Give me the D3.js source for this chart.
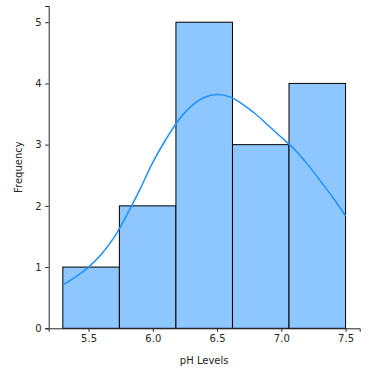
<!DOCTYPE html>
<html>
<head>
<meta charset="utf-8">
<script src="https://cdn.jsdelivr.net/npm/d3@7"></script>
<style>
  body { margin: 0; background: #fff; }
  svg { display: block; font-family: 'DejaVu Sans', sans-serif; }
</style>
</head>
<body>
<svg id="chart"></svg>
<script>
// histogram bins (pH edges) and counts
let binEdges = [5.3, 5.74, 6.18, 6.62, 7.06, 7.5]
let counts = [1, 2, 5, 3, 4]

// kde curve (scaled to counts)
let kdeX = [5.3, 5.4, 5.5, 5.6, 5.7, 5.8, 5.9, 6.0, 6.1, 6.2, 6.3, 6.4, 6.5, 6.6, 6.7, 6.8, 6.9, 7.0, 7.1, 7.2, 7.3, 7.4, 7.5]
let kdeY = [0.71, 0.84, 1.0, 1.21, 1.49, 1.86, 2.27, 2.71, 3.08, 3.4, 3.63, 3.77, 3.82, 3.78, 3.66, 3.5, 3.31, 3.12, 2.93, 2.69, 2.42, 2.14, 1.835]

let xTicks = [5.5, 6.0, 6.5, 7.0, 7.5]
let yTicks = [0, 1, 2, 3, 4, 5]

let width = 372
let height = 376
let margin = {left: 48.7, right: 12.3, top: 6, bottom: 47.7}

let svg = d3.select('#chart')
  .attr('width', width)
  .attr('height', height)

let xScale = d3.scaleLinear()
  .domain([5.19, 7.61])
  .range([margin.left, width - margin.right])

let yScale = d3.scaleLinear()
  .domain([0, 5.265])
  .range([height - margin.bottom, margin.top])

let bins = counts.map((c, i) => ({x0: binEdges[i], x1: binEdges[i + 1], count: c}))

svg.append('g')
  .selectAll('rect')
  .data(bins)
  .enter()
  .append('rect')
  .attr('x', (d) => xScale(d.x0))
  .attr('y', (d) => yScale(d.count))
  .attr('width', (d) => xScale(d.x1) - xScale(d.x0))
  .attr('height', (d) => yScale(0) - yScale(d.count))
  .attr('fill', '#8ec7ff')
  .attr('stroke', '#000')
  .attr('stroke-width', 1)

let kde = kdeX.map((x, i) => [x, kdeY[i]])

let line = d3.line()
  .x((d) => xScale(d[0]))
  .y((d) => yScale(d[1]))
  .curve(d3.curveCatmullRom)

svg.append('path')
  .datum(kde)
  .attr('d', line)
  .attr('fill', 'none')
  .attr('stroke', '#1e90ff')
  .attr('stroke-width', 1.5)

let xAxis = d3.axisBottom(xScale)
  .tickValues(xTicks)
  .tickFormat(d3.format('.1f'))
  .tickSizeOuter(0)
  .tickSize(3.5)
  .tickPadding(3.5)

let yAxis = d3.axisLeft(yScale)
  .tickValues(yTicks)
  .tickFormat(d3.format('d'))
  .tickSizeOuter(0)
  .tickSize(3.5)
  .tickPadding(3.5)

let gx = svg.append('g')
  .attr('transform', 'translate(0,' + (height - margin.bottom) + ')')
  .call(xAxis)

let gy = svg.append('g')
  .attr('transform', 'translate(' + margin.left + ',0)')
  .call(yAxis)

;[gx, gy].forEach((g) => {
  g.selectAll('text').attr('font-size', 10).attr('fill', '#262626').attr('font-family', 'DejaVu Sans')
  g.selectAll('line').attr('stroke', '#262626')
  g.select('.domain').attr('stroke', '#262626')
})

svg.append('text')
  .attr('x', (margin.left + width - margin.right) / 2)
  .attr('y', 364)
  .attr('text-anchor', 'middle')
  .attr('font-size', 10)
  .attr('fill', '#262626')
  .text('pH Levels')

svg.append('text')
  .attr('transform', 'translate(22,' + ((margin.top + height - margin.bottom) / 2) + ') rotate(-90)')
  .attr('text-anchor', 'middle')
  .attr('font-size', 10)
  .attr('fill', '#262626')
  .text('Frequency')
</script>
</body>
</html>
